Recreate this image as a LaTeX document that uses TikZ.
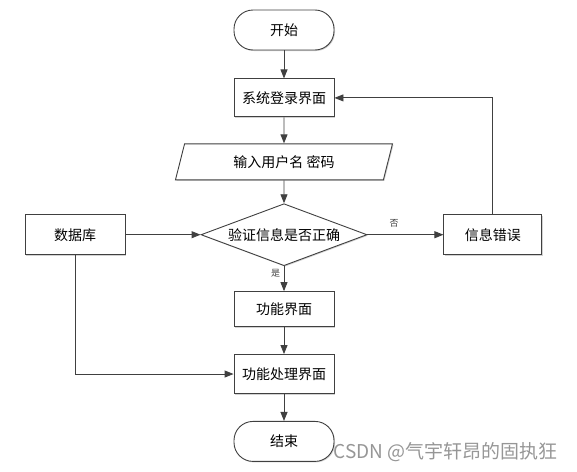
\documentclass[tikz,border=0pt]{standalone}
\usepackage{fontspec}
\setmainfont{Noto Sans CJK SC}
\newfontfamily\cjk{Noto Sans CJK SC}
\usetikzlibrary{positioning}
\usetikzlibrary{shapes.geometric}
\usetikzlibrary{arrows.meta}
\usetikzlibrary{shadows}
\definecolor{linegray}{RGB}{64,64,64}
\definecolor{markgray}{RGB}{150,150,150}

\tikzset{
  box/.style={draw=linegray,line width=0.9pt,fill=white,minimum width=100pt,minimum height=38pt,inner sep=2pt,
    drop shadow={shadow xshift=1pt,shadow yshift=-1pt,fill=gray!35,opacity=1},font=\cjk\fontsize{14}{16}\selectfont},
  term/.style={box,rounded corners=19pt,minimum height=40pt,drop shadow={opacity=0}},
  io/.style={box,trapezium,trapezium left angle=62,trapezium right angle=118,trapezium stretches body,minimum width=217pt,minimum height=36pt},
  decide/.style={box,diamond,aspect=2.7,minimum width=166pt,minimum height=62pt,inner sep=0pt},
  tag/.style={font=\cjk\fontsize{9}{10}\selectfont,text=linegray}
}

\begin{document}
\begin{tikzpicture}[x=1pt,y=1pt,line width=0.9pt,>={Triangle[length=9pt,width=7pt]}]
  \useasboundingbox (0,0) rectangle (577,-471);
  \node[term](start) at (284,-30) {开始};
  \node[box,below=28pt of start](login) {系统登录界面};
  \node[io,below=26pt of login](input) {输入用户名 密码};
  \node[decide,below=23pt of input](check) {验证信息是否正确};
  \node[box,minimum height=40pt,left=75pt of check](db) {数据库};
  \node[box,minimum height=40pt,minimum width=98pt,right=76pt of check](err) {信息错误};
  \node[box,minimum height=35pt,below=25pt of check](func) {功能界面};
  \node[box,minimum height=39pt,below=27pt of func](proc) {功能处理界面};
  \node[term,below=27pt of proc](stop) {结束};
  \node[font=\cjk\fontsize{19}{21}\selectfont,text=markgray,anchor=west](mark) at (330,-452) {CSDN @气宇轩昂的固执狂};
  \draw[->,linegray] (start)--(login);
  \draw[->,linegray] (login)--(input);
  \draw[->,linegray] (input)--(check);
  \draw[->,linegray] (db)--(check);
  \draw[->,linegray] (check)--node[tag,above=4pt,pos=0.35]{否}(err);
  \draw[->,linegray] (err.north)|-(login.east);
  \draw[->,linegray] (check)--node[tag,left,pos=0.3]{是}(func);
  \draw[->,linegray] (func)--(proc);
  \draw[->,linegray] (db.south)|-(proc.west);
  \draw[->,linegray] (proc)--(stop);
\end{tikzpicture}
\end{document}
